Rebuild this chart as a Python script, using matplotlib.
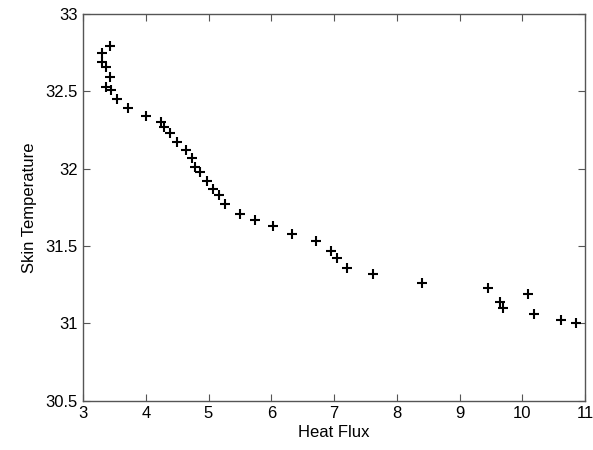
import matplotlib
matplotlib.use("Agg")
import matplotlib.pyplot as plt

heat_flux = [3.43, 3.31, 3.30, 3.37, 3.43, 3.37, 3.45, 3.54, 3.72, 4.01,
             4.25, 4.29, 4.39, 4.49, 4.64, 4.73, 4.78, 4.87, 4.97, 5.07,
             5.17, 5.26, 5.50, 5.74, 6.03, 6.33, 6.71, 6.96, 7.05, 7.20,
             7.62, 8.40, 9.46, 9.64, 9.70, 10.09, 10.19, 10.62, 10.85]
skin_temp = [32.79, 32.75, 32.69, 32.66, 32.59, 32.53, 32.51, 32.45, 32.39, 32.34,
             32.30, 32.27, 32.23, 32.17, 32.12, 32.07, 32.01, 31.98, 31.92, 31.87,
             31.83, 31.77, 31.71, 31.67, 31.63, 31.58, 31.53, 31.47, 31.42, 31.36,
             31.32, 31.26, 31.23, 31.14, 31.10, 31.19, 31.06, 31.02, 31.00]

plt.rcParams["font.family"] = ["Liberation Sans", "DejaVu Sans"]

fig = plt.figure(figsize=(5.93, 4.5), dpi=100)
ax = fig.add_axes([0.140, 0.1096, 0.8465, 0.8594])

ax.plot(heat_flux, skin_temp, linestyle="none", marker="+", color="black",
        markersize=7.5, markeredgewidth=1.5)

ax.set_xlim(3, 11)
ax.set_ylim(30.5, 33)
ax.set_xticks(range(3, 12))
ax.set_yticks([30.5, 31, 31.5, 32, 32.5, 33])
ax.set_yticklabels(["30.5", "31", "31.5", "32", "32.5", "33"])

for s in ax.spines.values():
    s.set_color("#555555")
    s.set_linewidth(1)
ax.tick_params(direction="in", length=5, color="#555555", labelsize=12, pad=4,
               top=True, right=True, labeltop=False, labelright=False)
ax.set_xlabel("Heat Flux", fontsize=12, labelpad=3)
ax.set_ylabel("Skin Temperature", fontsize=12, labelpad=6)

fig.savefig("out.png", dpi=100)
